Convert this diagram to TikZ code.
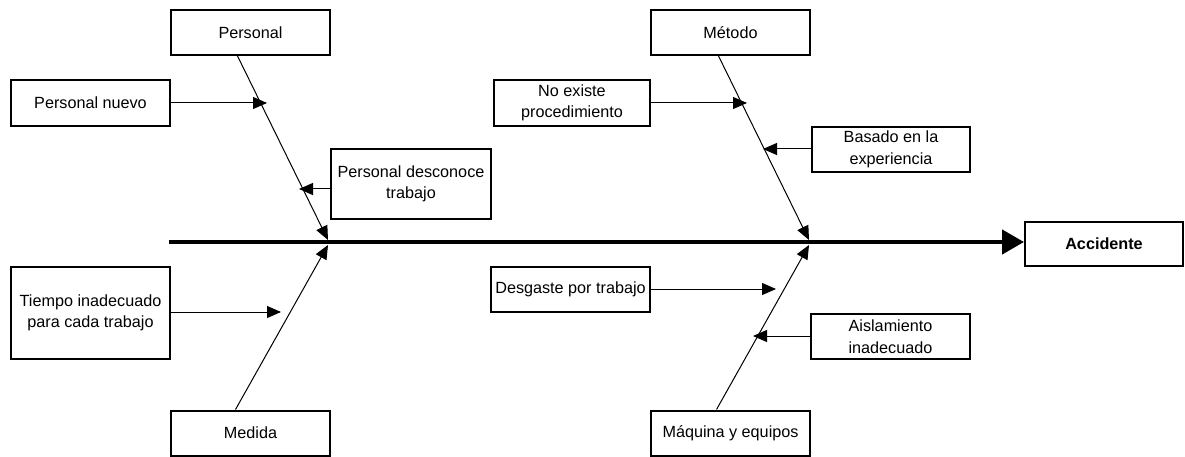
\documentclass[tikz,border=0pt]{standalone}
\usepackage{fontspec}
\setmainfont{Liberation Sans}
\usetikzlibrary{arrows.meta}
\begin{document}
\begin{tikzpicture}[x=1pt,y=-1pt,
  box/.style={draw, line width=2pt, inner sep=0pt, align=center,
    font=\fontsize{16.2}{21.5}\selectfont, minimum width=159pt, minimum height=45pt},
  bone/.style={line width=1pt, -{Triangle[length=14pt,width=12pt]}},
  sub/.style={line width=1pt, -{Triangle[length=14pt,width=12pt]}},
  spine/.style={line width=4.5pt, -{Triangle[length=22pt,width=24pt]}}]
\useasboundingbox (0,0) rectangle (1185,457);

% cause categories
\node[box] (pers) at (250.5,32.5) {Personal};
\node[box] (med)  at (250.5,433) {Medida};
\node[box] (met)  at (730.5,32.5) {Método};
\node[box] (maq)  at (730.5,433) {Máquina y equipos};

% sub-causes
\node[box, minimum height=46pt] (pn) at (90.5,103) {Personal nuevo};
\node[box, minimum width=160pt, minimum height=70pt] (pd) at (411,184) {Personal desconoce\\trabajo};
\node[box, minimum height=92pt] (ti) at (90.5,313) {Tiempo inadecuado\\para cada trabajo};
\node[box, minimum width=156pt, minimum height=46pt] (ne) at (572,103) {No existe\\procedimiento};
\node[box, minimum width=158pt] (ba) at (891,149.5) {Basado en la\\experiencia};
\node[box] (de) at (570.5,289.5) {Desgaste por trabajo};
\node[box] (ai) at (890.5,336.5) {Aislamiento\\inadecuado};

% effect
\node[box, minimum width=158pt, minimum height=44pt, font=\fontsize{16.2}{21.5}\selectfont\bfseries] (acc) at (1104,244) {Accidente};

% spine and bone end points
\coordinate (sp) at (169,242);
\coordinate (jp) at (328,240);
\coordinate (jm) at (328,245);
\coordinate (jt) at (809,240);
\coordinate (jq) at (809,245);

\draw[spine] (sp) -- (acc.west |- sp);

\draw[bone] ([xshift=-13pt]pers.south) -- (jp);
\draw[bone] ([xshift=-15pt]med.north) -- (jm);
\draw[bone] ([xshift=-12pt]met.south) -- (jt);
\draw[bone] ([xshift=-14pt]maq.north) -- (jq);

% sub-cause arrow tips on the bones
\coordinate (t1) at (267,103);
\coordinate (t2) at (299,189);
\coordinate (t3) at (281,312);
\coordinate (t4) at (747,103);
\coordinate (t5) at (763,149);
\coordinate (t6) at (776,289);
\coordinate (t7) at (753,336);

\draw[sub] (pn.east |- t1) -- (t1);
\draw[sub] (pd.west |- t2) -- (t2);
\draw[sub] (ti.east |- t3) -- (t3);
\draw[sub] (ne.east |- t4) -- (t4);
\draw[sub] (ba.west |- t5) -- (t5);
\draw[sub] (de.east |- t6) -- (t6);
\draw[sub] (ai.west |- t7) -- (t7);
\end{tikzpicture}
\end{document}
